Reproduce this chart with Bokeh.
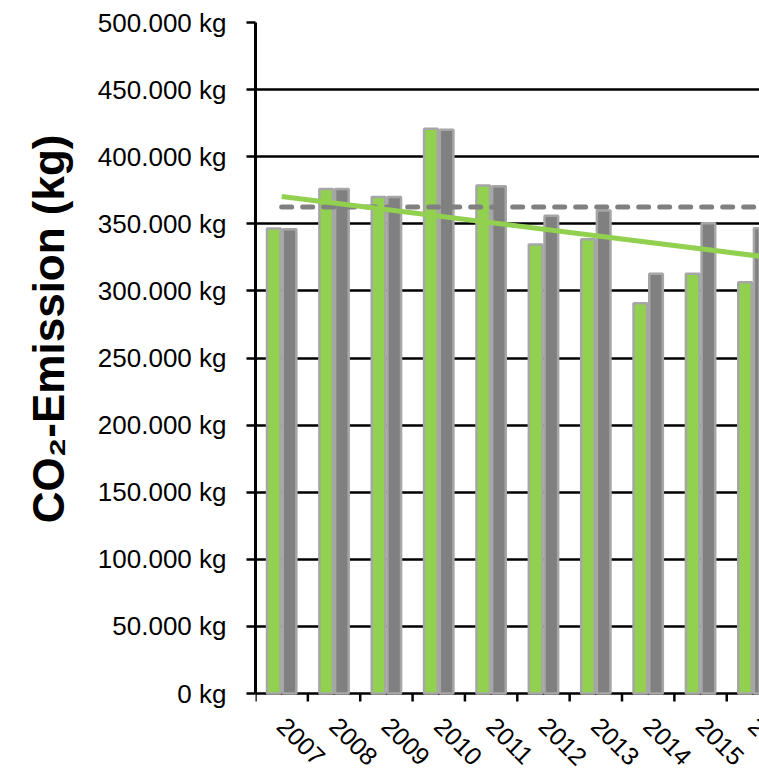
import math
from bokeh.plotting import figure
from bokeh.models import Range1d, FixedTicker, Title
from bokeh.core.properties import value
from bokeh.embed import file_html
from bokeh.resources import INLINE

# ---- data ----
years = [2007, 2008, 2009, 2010, 2011, 2012, 2013, 2014, 2015, 2016]
year_labels = ["2007", "2008", "2009", "2010", "2011", "2012", "2013", "2014", "2015", "2016"]
green_kg = [346500, 376000, 370000, 420800, 378500, 334600, 338500, 290800, 312700, 306500]
gray_kg = [346000, 376000, 370000, 420000, 378000, 356000, 360000, 312700, 350400, 346700]
trend_years = [2007, 2017]
trend_kg = [370300, 321600]
avg_years = [2007, 2017]
avg_kg = [362500, 362500]
y_ticks = [0, 50000, 100000, 150000, 200000, 250000, 300000, 350000, 400000, 450000, 500000]
y_tick_labels = ["0 kg", "50.000 kg", "100.000 kg", "150.000 kg", "200.000 kg", "250.000 kg",
                 "300.000 kg", "350.000 kg", "400.000 kg", "450.000 kg", "500.000 kg"]
y_title = "CO\u2082-Emission (kg)"

GREEN = "#92d050"
GRAY = "#808080"
EDGE = "#a6a6a6"
FONT = "Liberation Sans"

W, H = 759, 770
TOP, LEFT = 22, 253
PX_PER_KG = 671 / 500000.0           # 500.000 kg spans 671 px
y_low = -(H - TOP - 671) / PX_PER_KG   # frame runs below 0 to hold the year labels

p = figure(width=W, height=H, output_backend="svg", toolbar_location=None,
           x_range=Range1d(2006.5, 2016.126), y_range=Range1d(y_low, 500000),
           min_border_left=LEFT, min_border_top=TOP, min_border_right=0, min_border_bottom=0)
p.outline_line_color = None
p.background_fill_color = "white"
p.border_fill_color = "white"
p.xaxis.visible = False

# grid (the 0 line doubles as category axis line)
p.xgrid.grid_line_color = None
p.ygrid.ticker = FixedTicker(ticks=y_ticks)
p.ygrid.grid_line_color = "black"
p.ygrid.grid_line_width = 2.5

# bars
off = 0.15
bw = 0.26
p.vbar(x=[y - off for y in years], top=green_kg, width=bw, fill_color=GREEN,
       line_color=EDGE, line_width=2.5)
p.vbar(x=[y + off for y in years], top=gray_kg, width=bw, fill_color=GRAY,
       line_color=EDGE, line_width=2.5)

# average (dashed) and trend lines
p.line(avg_years, avg_kg, line_color=GRAY, line_width=5, line_dash="10 11", line_cap="round")
p.line(trend_years, trend_kg, line_color=GREEN, line_width=5)

# category boundary ticks below the 0 line
bounds = [y - 0.5 for y in years] + [years[-1] + 0.5]
tick_kg = 8 / PX_PER_KG
p.segment(x0=bounds, y0=[0] * len(bounds), x1=bounds, y1=[-tick_kg] * len(bounds),
          line_color="black", line_width=2.5)

# rotated year labels
p.text(x=years, y=[0] * len(years), text=year_labels, angle=-math.pi / 4,
       x_offset=0, y_offset=28, text_align="left", text_baseline="middle",
       text_font=value(FONT), text_font_size="25px", text_color="black")

# y axis
yax = p.yaxis[0]
yax.bounds = (0, 500000)
yax.ticker = FixedTicker(ticks=y_ticks)
yax.major_label_overrides = {t: l for t, l in zip(y_ticks, y_tick_labels)}
yax.major_label_text_font = FONT
yax.major_label_text_font_size = "26px"
yax.major_label_text_color = "black"
yax.major_label_standoff = 20
yax.major_tick_out = 9
yax.major_tick_in = 0
yax.major_tick_line_color = "black"
yax.major_tick_line_width = 2.5
yax.minor_tick_line_color = None
yax.axis_line_color = "black"
yax.axis_line_width = 3

# y axis title (placed as a side title so it can sit level with the 0..500.000 span)
p.add_layout(Title(text=y_title, align="right", offset=112, standoff=43,
                   text_font=FONT, text_font_style="bold", text_font_size="44px",
                   text_color="black"), "left")

open("out.html", "w").write(file_html(p, INLINE))
